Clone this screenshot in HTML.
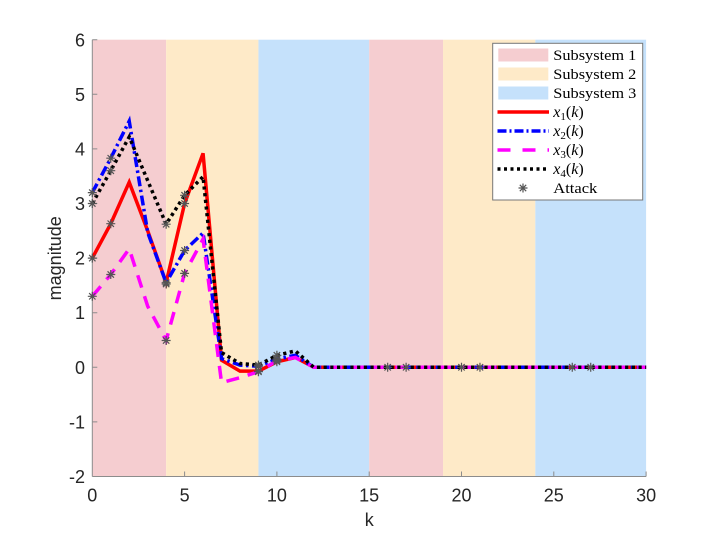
<!DOCTYPE html>
<html><head><meta charset="utf-8"><style>
html,body{margin:0;padding:0;background:#fff;}
svg{display:block;}
.tl{font-family:"Liberation Sans",Arial,sans-serif;font-size:18px;fill:#262626;}
.lg{font-family:"Liberation Serif","Times New Roman",serif;font-size:15px;fill:#000;}
</style></head><body>
<svg width="714" height="536" viewBox="0 0 714 536" xmlns="http://www.w3.org/2000/svg">
<rect width="714" height="536" fill="#fff"/>
<rect x="92.3" y="39.7" width="73.84" height="436.8" fill="#F5CDD0"/>
<rect x="166.14" y="39.7" width="92.3" height="436.8" fill="#FEEAC8"/>
<rect x="258.44" y="39.7" width="110.76" height="436.8" fill="#C5E1FB"/>
<rect x="369.2" y="39.7" width="73.84" height="436.8" fill="#F5CDD0"/>
<rect x="443.04" y="39.7" width="92.3" height="436.8" fill="#FEEAC8"/>
<rect x="535.34" y="39.7" width="110.76" height="436.8" fill="#C5E1FB"/>
<g stroke="#8c8c8c" stroke-width="1" fill="none">
<line x1="92.3" y1="39.7" x2="92.3" y2="476.5"/>
<line x1="92.3" y1="476.5" x2="646.1" y2="476.5"/>
<path d="M92.3,39.7h5M92.3,94.3h5M92.3,148.9h5M92.3,203.5h5M92.3,258.1h5M92.3,312.7h5M92.3,367.3h5M92.3,421.9h5"/>
<path d="M184.6,476.5v-5M276.9,476.5v-5M369.2,476.5v-5M461.5,476.5v-5M553.8,476.5v-5M646.1,476.5v-5"/>
</g>
<g class="tl" text-anchor="end">
<text x="85" y="46.5">6</text>
<text x="85" y="101">5</text>
<text x="85" y="155.5">4</text>
<text x="85" y="210">3</text>
<text x="85" y="264.5">2</text>
<text x="85" y="319">1</text>
<text x="85" y="373.8">0</text>
<text x="85" y="428.5">-1</text>
<text x="85" y="483">-2</text>
</g>
<g class="tl" text-anchor="middle">
<text x="92.3" y="501.7">0</text>
<text x="184.6" y="501.7">5</text>
<text x="276.9" y="501.7">10</text>
<text x="369.2" y="501.7">15</text>
<text x="461.5" y="501.7">20</text>
<text x="553.8" y="501.7">25</text>
<text x="646.1" y="501.7">30</text>
<text x="369.2" y="526">k</text>
<text transform="translate(61,258.3) rotate(-90)">magnitude</text>
</g>
<g fill="none" stroke-linejoin="miter">
<polyline stroke="#FF0000" stroke-width="3.5" points="92.3,258.1 110.76,223.7 129.22,182.2 147.68,230.8 166.14,282.7 184.6,203.5 203.06,153.3 221.52,360.2 239.98,371.1 258.44,371.1 276.9,361.8 295.36,357.5 313.82,367.3 646.1,367.3"/>
<polyline stroke="#0000FF" stroke-width="3.5" stroke-dasharray="10,3.5,2.5,3.5" points="92.3,192.6 110.76,158.2 129.22,121.1 147.68,232.4 166.14,282.7 184.6,250.5 203.06,233.0 221.52,358.6 239.98,365.1 258.44,366.2 276.9,359.1 295.36,355.3 313.82,367.3 646.1,367.3"/>
<polyline stroke="#FF00FF" stroke-width="3.5" stroke-dasharray="13,9" points="92.3,296.3 110.76,274.5 129.22,248.8 147.68,306.2 166.14,340.5 184.6,273.4 203.06,239.0 221.52,382.6 239.98,377.7 258.44,371.7 276.9,360.7 295.36,357.5 313.82,367.3 646.1,367.3"/>
<polyline stroke="#000000" stroke-width="3.5" stroke-dasharray="3.2,3.5" points="92.3,203.5 110.76,170.7 129.22,136.9 147.68,180.6 166.14,224.2 184.6,195.3 203.06,176.7 221.52,352.6 239.98,363.5 258.44,365.1 276.9,355.3 295.36,350.9 313.82,367.3 646.1,367.3"/>
</g>
<g stroke="#555" stroke-width="1.2" fill="none">
<path d="M-4.5,0H4.5M0,-4.5V4.5M-3.2,-3.2L3.2,3.2M-3.2,3.2L3.2,-3.2" transform="translate(92.3,258.1)"/>
<path d="M-4.5,0H4.5M0,-4.5V4.5M-3.2,-3.2L3.2,3.2M-3.2,3.2L3.2,-3.2" transform="translate(92.3,192.6)"/>
<path d="M-4.5,0H4.5M0,-4.5V4.5M-3.2,-3.2L3.2,3.2M-3.2,3.2L3.2,-3.2" transform="translate(92.3,296.3)"/>
<path d="M-4.5,0H4.5M0,-4.5V4.5M-3.2,-3.2L3.2,3.2M-3.2,3.2L3.2,-3.2" transform="translate(92.3,203.5)"/>
<path d="M-4.5,0H4.5M0,-4.5V4.5M-3.2,-3.2L3.2,3.2M-3.2,3.2L3.2,-3.2" transform="translate(110.76,223.7)"/>
<path d="M-4.5,0H4.5M0,-4.5V4.5M-3.2,-3.2L3.2,3.2M-3.2,3.2L3.2,-3.2" transform="translate(110.76,158.2)"/>
<path d="M-4.5,0H4.5M0,-4.5V4.5M-3.2,-3.2L3.2,3.2M-3.2,3.2L3.2,-3.2" transform="translate(110.76,274.5)"/>
<path d="M-4.5,0H4.5M0,-4.5V4.5M-3.2,-3.2L3.2,3.2M-3.2,3.2L3.2,-3.2" transform="translate(110.76,170.7)"/>
<path d="M-4.5,0H4.5M0,-4.5V4.5M-3.2,-3.2L3.2,3.2M-3.2,3.2L3.2,-3.2" transform="translate(166.14,282.7)"/>
<path d="M-4.5,0H4.5M0,-4.5V4.5M-3.2,-3.2L3.2,3.2M-3.2,3.2L3.2,-3.2" transform="translate(166.14,284)"/>
<path d="M-4.5,0H4.5M0,-4.5V4.5M-3.2,-3.2L3.2,3.2M-3.2,3.2L3.2,-3.2" transform="translate(166.14,340.5)"/>
<path d="M-4.5,0H4.5M0,-4.5V4.5M-3.2,-3.2L3.2,3.2M-3.2,3.2L3.2,-3.2" transform="translate(166.14,224.2)"/>
<path d="M-4.5,0H4.5M0,-4.5V4.5M-3.2,-3.2L3.2,3.2M-3.2,3.2L3.2,-3.2" transform="translate(184.6,203.5)"/>
<path d="M-4.5,0H4.5M0,-4.5V4.5M-3.2,-3.2L3.2,3.2M-3.2,3.2L3.2,-3.2" transform="translate(184.6,250.5)"/>
<path d="M-4.5,0H4.5M0,-4.5V4.5M-3.2,-3.2L3.2,3.2M-3.2,3.2L3.2,-3.2" transform="translate(184.6,273.4)"/>
<path d="M-4.5,0H4.5M0,-4.5V4.5M-3.2,-3.2L3.2,3.2M-3.2,3.2L3.2,-3.2" transform="translate(184.6,195.3)"/>
<path d="M-4.5,0H4.5M0,-4.5V4.5M-3.2,-3.2L3.2,3.2M-3.2,3.2L3.2,-3.2" transform="translate(258.44,371.1)"/>
<path d="M-4.5,0H4.5M0,-4.5V4.5M-3.2,-3.2L3.2,3.2M-3.2,3.2L3.2,-3.2" transform="translate(258.44,366.2)"/>
<path d="M-4.5,0H4.5M0,-4.5V4.5M-3.2,-3.2L3.2,3.2M-3.2,3.2L3.2,-3.2" transform="translate(258.44,371.7)"/>
<path d="M-4.5,0H4.5M0,-4.5V4.5M-3.2,-3.2L3.2,3.2M-3.2,3.2L3.2,-3.2" transform="translate(258.44,365.1)"/>
<path d="M-4.5,0H4.5M0,-4.5V4.5M-3.2,-3.2L3.2,3.2M-3.2,3.2L3.2,-3.2" transform="translate(276.9,361.8)"/>
<path d="M-4.5,0H4.5M0,-4.5V4.5M-3.2,-3.2L3.2,3.2M-3.2,3.2L3.2,-3.2" transform="translate(276.9,359.1)"/>
<path d="M-4.5,0H4.5M0,-4.5V4.5M-3.2,-3.2L3.2,3.2M-3.2,3.2L3.2,-3.2" transform="translate(276.9,360.7)"/>
<path d="M-4.5,0H4.5M0,-4.5V4.5M-3.2,-3.2L3.2,3.2M-3.2,3.2L3.2,-3.2" transform="translate(276.9,355.3)"/>
<path d="M-4.5,0H4.5M0,-4.5V4.5M-3.2,-3.2L3.2,3.2M-3.2,3.2L3.2,-3.2" transform="translate(387.66,367.3)"/>
<path d="M-4.5,0H4.5M0,-4.5V4.5M-3.2,-3.2L3.2,3.2M-3.2,3.2L3.2,-3.2" transform="translate(406.12,367.3)"/>
<path d="M-4.5,0H4.5M0,-4.5V4.5M-3.2,-3.2L3.2,3.2M-3.2,3.2L3.2,-3.2" transform="translate(461.5,367.3)"/>
<path d="M-4.5,0H4.5M0,-4.5V4.5M-3.2,-3.2L3.2,3.2M-3.2,3.2L3.2,-3.2" transform="translate(479.96,367.3)"/>
<path d="M-4.5,0H4.5M0,-4.5V4.5M-3.2,-3.2L3.2,3.2M-3.2,3.2L3.2,-3.2" transform="translate(572.26,367.3)"/>
<path d="M-4.5,0H4.5M0,-4.5V4.5M-3.2,-3.2L3.2,3.2M-3.2,3.2L3.2,-3.2" transform="translate(590.72,367.3)"/>
</g>
<rect x="492.7" y="43.3" width="150" height="156.7" fill="#fff" stroke="#777" stroke-width="1"/>
<rect x="498.3" y="48.5" width="50" height="13" fill="#F5CDD0"/>
<rect x="498.3" y="67.5" width="50" height="13" fill="#FEEAC8"/>
<rect x="498.3" y="86.5" width="50" height="13" fill="#C5E1FB"/>
<line x1="497.5" y1="112" x2="549" y2="112" stroke="#FF0000" stroke-width="3.5"/>
<line x1="497.5" y1="131" x2="549" y2="131" stroke="#0000FF" stroke-width="3.5" stroke-dasharray="9,3,2,3"/>
<line x1="497.5" y1="150" x2="549" y2="150" stroke="#FF00FF" stroke-width="3.5" stroke-dasharray="13,12"/>
<line x1="497.5" y1="169" x2="549" y2="169" stroke="#000" stroke-width="3.5" stroke-dasharray="3,3.5"/>
<path d="M-4.5,0H4.5M0,-4.5V4.5M-3.2,-3.2L3.2,3.2M-3.2,3.2L3.2,-3.2" transform="translate(523,188)" stroke="#555" stroke-width="1.2" fill="none"/>
<g class="lg">
<text x="553.3" y="60" textLength="83" lengthAdjust="spacingAndGlyphs">Subsystem 1</text>
<text x="553.3" y="79" textLength="83" lengthAdjust="spacingAndGlyphs">Subsystem 2</text>
<text x="553.3" y="98" textLength="83" lengthAdjust="spacingAndGlyphs">Subsystem 3</text>
<text x="553.3" y="117" font-size="16"><tspan font-style="italic">x</tspan><tspan font-size="11" dy="3">1</tspan><tspan dy="-3">(</tspan><tspan font-style="italic">k</tspan>)</text>
<text x="553.3" y="136" font-size="16"><tspan font-style="italic">x</tspan><tspan font-size="11" dy="3">2</tspan><tspan dy="-3">(</tspan><tspan font-style="italic">k</tspan>)</text>
<text x="553.3" y="155" font-size="16"><tspan font-style="italic">x</tspan><tspan font-size="11" dy="3">3</tspan><tspan dy="-3">(</tspan><tspan font-style="italic">k</tspan>)</text>
<text x="553.3" y="174" font-size="16"><tspan font-style="italic">x</tspan><tspan font-size="11" dy="3">4</tspan><tspan dy="-3">(</tspan><tspan font-style="italic">k</tspan>)</text>
<text x="553.3" y="193" textLength="44" lengthAdjust="spacingAndGlyphs">Attack</text>
</g>
</svg>
</body></html>
